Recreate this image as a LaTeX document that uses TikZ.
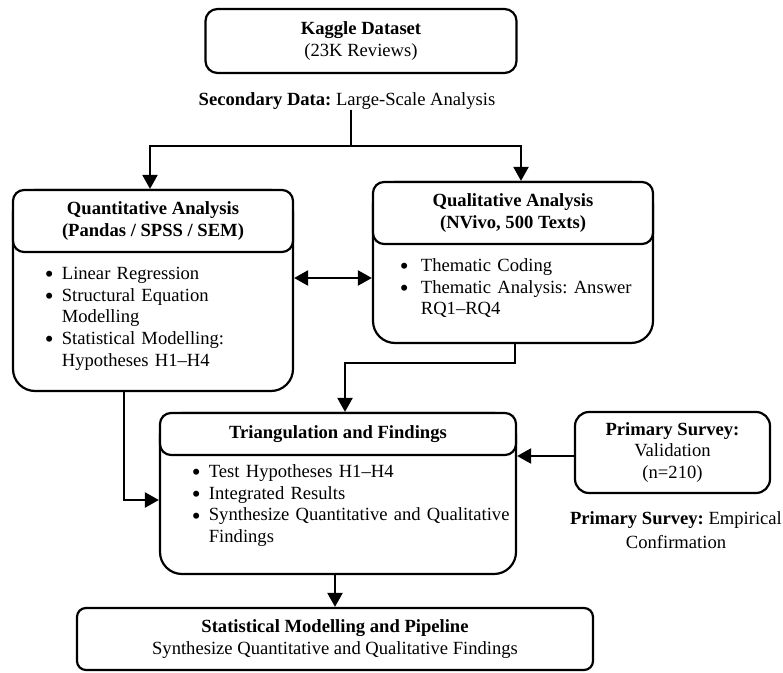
\documentclass[tikz,border=0pt]{standalone}
\usepackage{fontspec}
\usepackage{graphicx}
\setmainfont{Liberation Serif}
\usetikzlibrary{arrows.meta}
\frenchspacing
\newcommand\fs{\fontsize{18.6bp}{21.8bp}\selectfont\frenchspacing}
\newcommand\nl{\hfil\break}
\newcommand\bigbullet{\smash{\raisebox{-3.2bp}{\scalebox{1.35}{\textbullet}}}}
\newcommand\bitem[2][17bp]{\hangindent=#1\hangafter=1\noindent\makebox[#1][l]{\bigbullet}#2\par}
\begin{document}
\begin{tikzpicture}[x=1bp,y=-1bp,
  lw/.style={line width=2.2bp},
  box/.style={draw, lw, rounded corners=12bp, inner sep=0pt, align=center, font=\fs},
  bodybox/.style={draw, lw, rounded corners=22bp, inner sep=0pt},
  hdr/.style={draw, lw, fill=white, rounded corners=11bp, inner sep=0pt, align=center, font=\fs\bfseries},
  items/.style={inner sep=0pt, align=left, font=\fs},
  lbl/.style={inner sep=0pt, align=center, font=\fs},
  ln/.style={lw},
  arr/.style={lw, -{Triangle[length=14bp,width=15bp]}},
  dbl/.style={lw, {Triangle[length=14bp,width=15bp]}-{Triangle[length=14bp,width=15bp]}}]
\useasboundingbox (0,0) rectangle (783,673);

% Kaggle
\node[box, minimum width=311bp, minimum height=64bp] (kag) at (361,41)
  {\textbf{Kaggle Dataset}\\(23K Reviews)};
\node[lbl] (sec) at (347,101) {\textbf{Secondary Data:} Large-Scale Analysis};
\coordinate (split) at (351,146);

% Quantitative
\node[bodybox, minimum width=280bp, minimum height=201bp] (qt) at (153,290.5) {};
\node[hdr, minimum width=280bp, minimum height=62bp, anchor=north] (qth) at (qt.north)
  {Quantitative Analysis\\(Pandas / SPSS / SEM)};
\node[items, text width=238bp, anchor=base west] (qtb) at (44.7,279.3)
  {\bitem{Linear Regression}\bitem{Structural Equation\nl Modelling}\bitem{Statistical Modelling:\nl Hypotheses H1–H4}};

% Qualitative
\node[bodybox, minimum width=280bp, minimum height=161bp] (ql) at (513,262.5) {};
\node[hdr, minimum width=280bp, minimum height=62bp, anchor=north] (qlh) at (ql.north)
  {Qualitative Analysis\\(NVivo, 500 Texts)};
\node[items, text width=250bp, anchor=base west] (qlb) at (399.7,271.3)
  {\bitem[21bp]{Thematic Coding}\bitem[21bp]{Thematic Analysis: Answer\nl RQ1–RQ4}};

% Triangulation
\node[bodybox, minimum width=356bp, minimum height=161bp] (tri) at (338,493.5) {};
\node[hdr, minimum width=356bp, minimum height=42bp, anchor=north] (trih) at (tri.north)
  {Triangulation and Findings};
\node[items, text width=320bp, anchor=base west] (trib) at (191.7,477.3)
  {\bitem{Test Hypotheses H1–H4}\bitem{Integrated Results}\bitem{Synthesize Quantitative and Qualitative\nl Findings}};

% Primary survey
\node[box, rounded corners=14bp, minimum width=195bp, minimum height=81bp] (ps) at (672.5,452.5)
  {\textbf{Primary Survey:}\\Validation\\(n=210)};
\node[lbl, font=\fontsize{18.6bp}{24bp}\selectfont] (psc) at (676,530) {\textbf{Primary Survey:} Empirical\\Confirmation};

% Bottom
\node[box, rounded corners=9bp, minimum width=516bp, minimum height=62bp] (bot) at (335,639)
  {\textbf{Statistical Modelling and Pipeline}\\Synthesize Quantitative and Qualitative Findings};

% Connectors
\draw[ln] (sec.south -| split) -- (split);
\draw[arr] (split) -| ([xshift=-3bp]qt.north);
\draw[arr] (split) -| ([xshift=8bp]ql.north);
\draw[dbl] (qt.east |- 0,278) -- (ql.west |- 0,278);
\draw[arr] ([xshift=2bp]ql.south) -- ++(0,19) -| ([xshift=7bp]tri.north);
\draw[arr] (qt.south -| 124,0) |- (tri.west |- 0,500);
\draw[arr] (ps.west |- 0,456) -- (tri.east |- 0,456);
\draw[arr] (tri.south -| 335,0) -- (bot.north -| 335,0);
\end{tikzpicture}
\end{document}
